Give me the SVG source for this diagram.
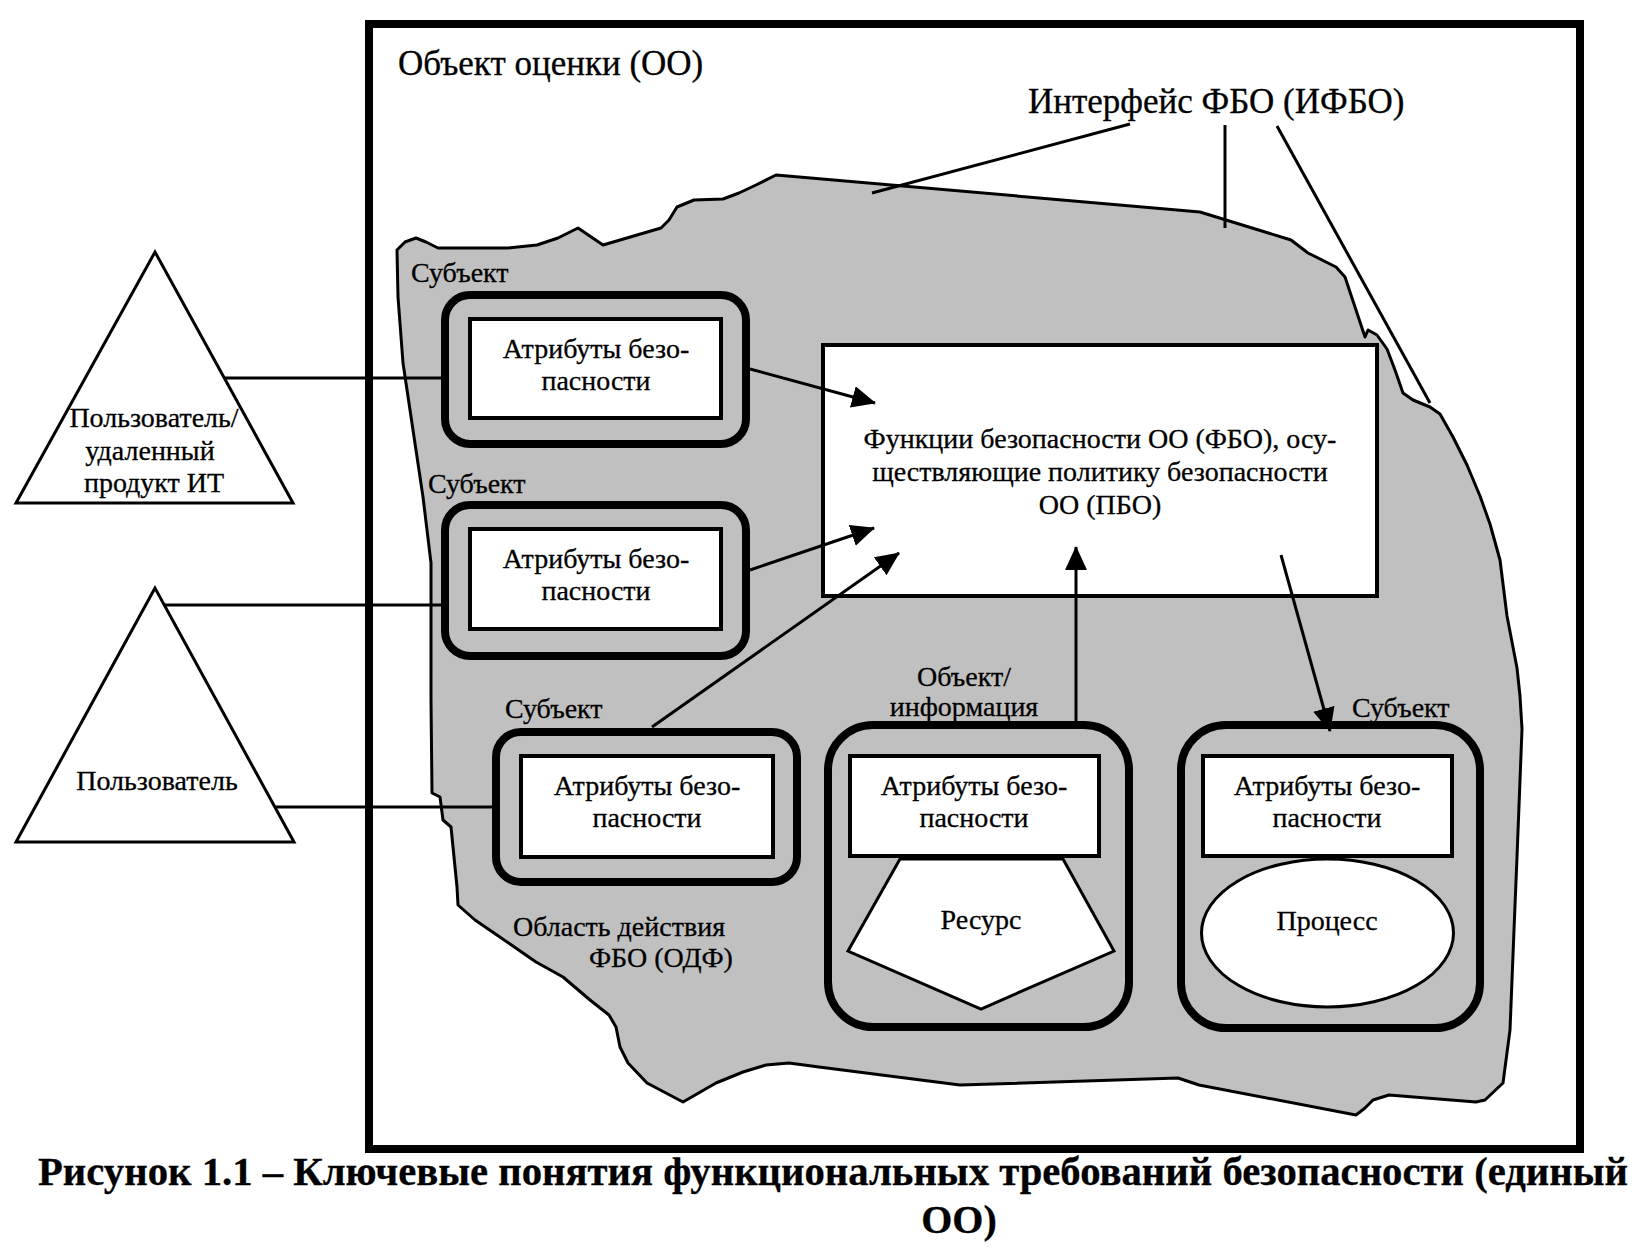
<svg xmlns="http://www.w3.org/2000/svg" width="1652" height="1258" viewBox="0 0 1652 1258">
<defs>
<style>
.t{font-family:"Liberation Serif","Times New Roman",serif;font-size:28px;fill:#000;stroke:#000;stroke-width:0.3}
.big{font-size:35px}
.cap{font-weight:bold;font-size:40px}
.m{text-anchor:middle}
.sub{fill:#c0c0c0;stroke:#000;stroke-width:8}
.attr{fill:#fff;stroke:#000;stroke-width:4}
.shape{fill:#fff;stroke:#000;stroke-width:3}
.ln{stroke:#000;stroke-width:3;fill:none}
.arr{marker-end:url(#ah)}
</style>
<marker id="ah" markerUnits="userSpaceOnUse" markerWidth="24" markerHeight="22" refX="23" refY="11" orient="auto">
<path d="M0,0 L24,11 L0,22 z" fill="#000"/>
</marker>
</defs>
<rect width="1652" height="1258" fill="#fff"/>

<g id="toe">
<rect x="369" y="24" width="1211" height="1125" fill="#fff" stroke="#000" stroke-width="8"/>
<text class="t big" x="398" y="75">Объект оценки (ОО)</text>
</g>

<g id="tsc">
<path fill="#c0c0c0" stroke="#000" stroke-width="3" stroke-linejoin="round" d="M397,250 L405,242 L416,238 L426,242 L438,248 L508,248 L537,245 L558,238 L578,228 L603,245 L661,228 L669,220 L677,207 L694,200 L723,199 L739,193 L756,185 L776,175 L1200,212 L1291,240 L1308,253 L1336,267 L1345,277 L1365,337 L1368,330 L1377,335 L1387,349 L1395,370 L1403,393 L1413,400 L1430,407 L1440,414 L1453,437 L1467,465 L1480,496 L1490,524 L1500,560 L1507,616 L1517,668 L1520,696 L1522,729 L1517,857 L1514,930 L1510,1030 L1503,1083 L1485,1100 L1476,1102 L1389,1095 L1373,1100 L1365,1108 L1356,1115 L1199,1085 L1178,1078 L960,1085 L819,1067 L789,1063 L766,1065 L743,1072 L716,1083 L683,1102 L647,1083 L628,1063 L620,1047 L616,1027 L609,1015 L590,1000 L563,977 L536,962 L494,933 L475,920 L458,905 L457,887 L451,827 L443,820 L440,797 L432,793 L431,700 L431,563 L423,497 L413,430 L403,363 L398,297 Z"/>
<text class="t" x="513" y="936">Область действия</text>
<text class="t" x="589" y="967">ФБО (ОДФ)</text>
</g>

<g id="tsfi">
<line class="ln" x1="1130" y1="124" x2="872" y2="193"/>
<line class="ln" x1="1225" y1="125" x2="1225" y2="228"/>
<line class="ln" x1="1277" y1="126" x2="1430" y2="403"/>
<text class="t big" x="1028" y="113">Интерфейс ФБО (ИФБО)</text>
</g>

<g id="tsf">
<rect x="823" y="345" width="554" height="251" fill="#fff" stroke="#000" stroke-width="4"/>
<text class="t m" x="1100" y="448">Функции безопасности ОО (ФБО), осу-</text>
<text class="t m" x="1100" y="481">ществляющие политику безопасности</text>
<text class="t m" x="1100" y="514">ОО (ПБО)</text>
</g>

<g id="user-remote">
<polygon class="shape" points="155,252 16,503 293,503"/>
<text class="t m" x="154" y="427">Пользователь/</text>
<text class="t m" x="150" y="460">удаленный</text>
<text class="t m" x="154" y="492">продукт ИТ</text>
</g>

<g id="user">
<polygon class="shape" points="155,588 16,842 294,842"/>
<text class="t m" x="157" y="790">Пользователь</text>
</g>

<g id="subject1">
<text class="t" x="411" y="282">Субъект</text>
<rect class="sub" x="445" y="295" width="301" height="149" rx="25"/>
<rect class="attr" x="470" y="319" width="251" height="99"/>
<text class="t m" x="596" y="358">Атрибуты безо-</text>
<text class="t m" x="596" y="390">пасности</text>
</g>

<g id="subject2">
<text class="t" x="428" y="493">Субъект</text>
<rect class="sub" x="445" y="505" width="301" height="151" rx="25"/>
<rect class="attr" x="470" y="529" width="251" height="100"/>
<text class="t m" x="596" y="568">Атрибуты безо-</text>
<text class="t m" x="596" y="600">пасности</text>
</g>

<g id="subject3">
<text class="t" x="505" y="718">Субъект</text>
<rect class="sub" x="496" y="732" width="301" height="150" rx="25"/>
<rect class="attr" x="521" y="756" width="252" height="101"/>
<text class="t m" x="647" y="795">Атрибуты безо-</text>
<text class="t m" x="647" y="827">пасности</text>
</g>

<g id="object">
<text class="t m" x="964" y="686">Объект/</text>
<text class="t m" x="964" y="716">информация</text>
<rect class="sub" x="828" y="725" width="301" height="302" rx="45"/>
<polygon class="shape" points="900,859 1063,859 1114,951 981,1009 848,951"/>
<rect class="attr" x="850" y="756" width="249" height="100"/>
<text class="t m" x="974" y="795">Атрибуты безо-</text>
<text class="t m" x="974" y="827">пасности</text>
<text class="t m" x="981" y="929">Ресурс</text>
</g>

<g id="subject4">
<text class="t" x="1352" y="717">Субъект</text>
<rect class="sub" x="1181" y="725" width="299" height="303" rx="45"/>
<ellipse class="shape" cx="1327.5" cy="933" rx="126" ry="74"/>
<rect class="attr" x="1203" y="756" width="249" height="100"/>
<text class="t m" x="1327" y="795">Атрибуты безо-</text>
<text class="t m" x="1327" y="827">пасности</text>
<text class="t m" x="1327" y="930">Процесс</text>
</g>

<g id="connectors">
<line class="ln" x1="224" y1="378" x2="441" y2="378"/>
<line class="ln" x1="165" y1="605" x2="441" y2="605"/>
<line class="ln" x1="275" y1="807" x2="492" y2="807"/>
<line class="ln arr" x1="750" y1="369" x2="875" y2="403"/>
<line class="ln arr" x1="750" y1="570" x2="874" y2="528"/>
<line class="ln arr" x1="652" y1="727" x2="899" y2="553"/>
<line class="ln arr" x1="1076" y1="721" x2="1076" y2="547"/>
<line class="ln arr" x1="1281" y1="555" x2="1330" y2="731"/>
</g>

<g id="caption">
<text class="t cap m" x="833" y="1185" textLength="1590" lengthAdjust="spacingAndGlyphs">Рисунок 1.1 – Ключевые понятия функциональных требований безопасности (единый</text>
<text class="t cap m" x="959" y="1233">ОО)</text>
</g>
</svg>
